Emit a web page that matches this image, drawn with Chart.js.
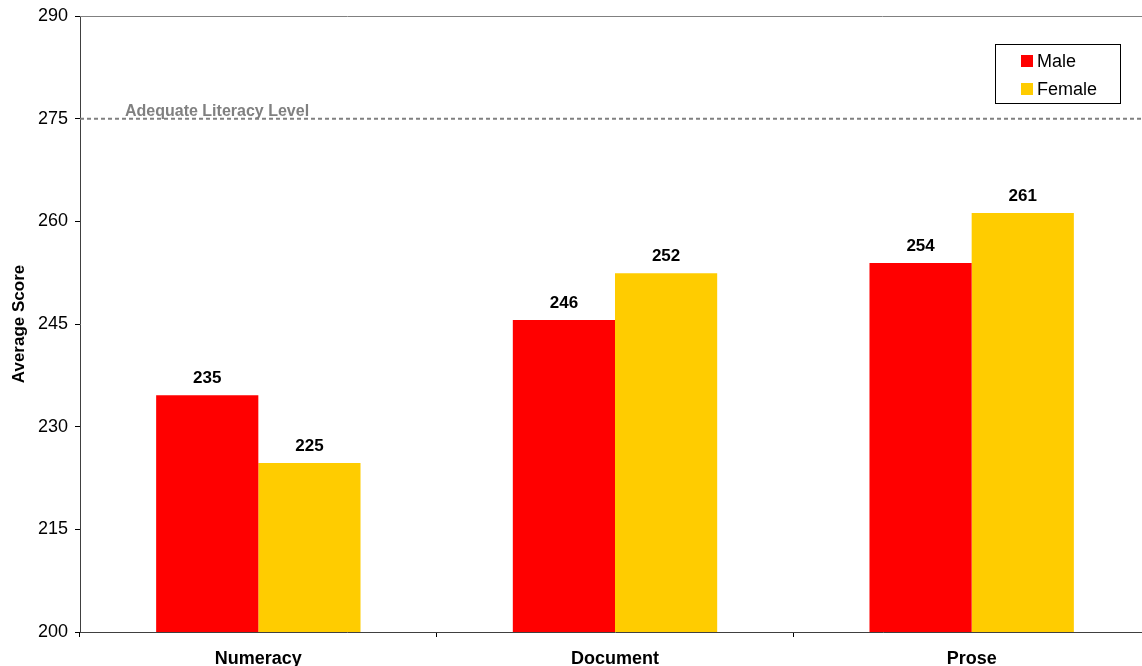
<!DOCTYPE html>
<html>
<head>
<meta charset="utf-8">
<script src="https://cdn.jsdelivr.net/npm/chart.js@4.4.1/dist/chart.umd.min.js"></script>
<style>
  html, body { margin: 0; padding: 0; background: #fff; overflow: hidden; }
  #wrap { position: relative; width: 1150px; height: 666px; }
</style>
</head>
<body>
<div id="wrap"><canvas id="chart"></canvas></div>
<script>
// Average literacy scores by domain and sex
const categories = ['Numeracy', 'Document', 'Prose'];
const maleScores = [234.6, 245.6, 253.9];
const femaleScores = [224.7, 252.4, 261.2];
const seriesNames = ['Male', 'Female'];
const yTicks = [200, 215, 230, 245, 260, 275, 290];
const adequateLevel = 275;
const adequateLabel = 'Adequate Literacy Level';

const FONT = '"Liberation Sans", Arial, Helvetica, sans-serif';

// Reference line, value labels, framed legend and top border
const decorations = {
  id: 'decorations',
  beforeDatasetsDraw(chart) {
    const { ctx, chartArea: a, scales: { y } } = chart;
    ctx.save();
    // top border of plot area
    ctx.strokeStyle = '#808080';
    ctx.lineWidth = 1;
    ctx.beginPath();
    ctx.moveTo(a.left, Math.round(a.top) + 0.5);
    ctx.lineTo(a.right, Math.round(a.top) + 0.5);
    ctx.stroke();
    // adequate level dashed line
    const ly = y.getPixelForValue(adequateLevel);
    ctx.strokeStyle = '#808080';
    ctx.lineWidth = 2;
    ctx.setLineDash([4, 3]);
    ctx.beginPath();
    ctx.moveTo(a.left, ly);
    ctx.lineTo(a.right, ly);
    ctx.stroke();
    ctx.setLineDash([]);
    ctx.fillStyle = '#808080';
    ctx.font = 'bold 16px ' + FONT;
    ctx.textAlign = 'left';
    ctx.textBaseline = 'alphabetic';
    ctx.fillText(adequateLabel, a.left + 45, ly - 3);
    ctx.restore();
  },
  afterDatasetsDraw(chart) {
    const { ctx } = chart;
    ctx.save();
    ctx.fillStyle = '#000';
    ctx.font = 'bold 17px ' + FONT;
    ctx.textAlign = 'center';
    ctx.textBaseline = 'alphabetic';
    chart.data.datasets.forEach((ds, i) => {
      chart.getDatasetMeta(i).data.forEach((bar, j) => {
        ctx.fillText(String(Math.round(ds.data[j])), bar.x, bar.y - 12);
      });
    });
    // legend box
    const bx = 995.5, by = 44.5, bw = 125, bh = 59;
    ctx.fillStyle = '#fff';
    ctx.fillRect(bx, by, bw, bh);
    ctx.strokeStyle = '#000';
    ctx.lineWidth = 1;
    ctx.strokeRect(bx, by, bw, bh);
    ctx.font = '18px ' + FONT;
    ctx.textAlign = 'left';
    ctx.textBaseline = 'middle';
    chart.data.datasets.forEach((ds, i) => {
      const cy = 61 + i * 28;
      ctx.fillStyle = ds.backgroundColor;
      ctx.fillRect(1021, cy - 6, 12, 12);
      ctx.fillStyle = '#000';
      ctx.fillText(ds.label, 1037, cy + 1);
    });
    ctx.restore();
  }
};

new Chart(document.getElementById('chart'), {
  type: 'bar',
  data: {
    labels: categories,
    datasets: [
      { label: seriesNames[0], data: maleScores, backgroundColor: '#FF0000' },
      { label: seriesNames[1], data: femaleScores, backgroundColor: '#FFCC00' }
    ]
  },
  options: {
    responsive: true,
    maintainAspectRatio: false,
    animation: false,
    layout: { padding: { top: 16, right: 0, bottom: 0, left: 0 } },
    categoryPercentage: 0.573,
    barPercentage: 1.0,
    plugins: { legend: { display: false }, tooltip: { enabled: false } },
    scales: {
      x: {
        grid: { drawOnChartArea: false, offset: true, tickLength: 5, color: '#000', tickColor: '#000' },
        border: { color: '#404040', width: 1 },
        ticks: { color: '#000', font: { family: FONT, size: 18, weight: 'bold' }, padding: 11, maxRotation: 0 },
        afterFit(s) { s.height = 34; }
      },
      y: {
        min: 200,
        max: 290,
        afterBuildTicks(s) { s.ticks = yTicks.map(v => ({ value: v })); },
        grid: { drawOnChartArea: false, tickLength: 5, color: '#000', tickColor: '#000' },
        border: { color: '#404040', width: 1 },
        ticks: { color: '#000', font: { family: FONT, size: 18 }, padding: 7 },
        title: { display: true, text: 'Average Score', color: '#000', font: { family: FONT, size: 17, weight: 'bold' }, padding: { top: 9, bottom: 0 } },
        afterFit(s) { s.width = 80; s.paddingTop = 0; s.paddingBottom = 0; }
      }
    }
  },
  plugins: [decorations]
});
</script>
</body>
</html>
